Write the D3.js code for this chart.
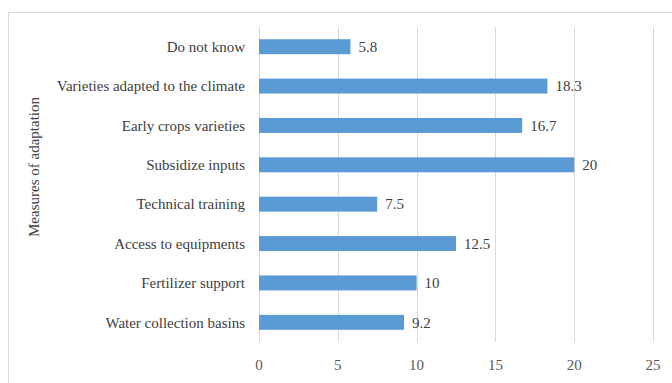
<!DOCTYPE html>
<html><head><meta charset="utf-8">
<script src="https://cdn.jsdelivr.net/npm/d3@7"></script>
<style>body{margin:0;background:#fff}svg{display:block}</style>
</head><body>
<script>
const categories = ["Do not know","Varieties adapted to the climate","Early crops varieties","Subsidize inputs","Technical training","Access to equipments","Fertilizer support","Water collection basins"];
const values = [5.8,18.3,16.7,20,7.5,12.5,10,9.2];
const valueLabels = ["5.8","18.3","16.7","20","7.5","12.5","10","9.2"];
const xTicks = [0,5,10,15,20,25];
const axisTitle = "Measures of adaptation";

const W = 672, H = 383;
const svg = d3.select("body").append("svg").attr("width", W).attr("height", H);
const font = "'Liberation Serif', 'Times New Roman', serif";

svg.append("rect").attr("x", 8.5).attr("y", 12.5).attr("width", W).attr("height", H)
  .attr("fill", "none").attr("stroke", "#d9d9d9");

const x = d3.scaleLinear().domain([0, 25]).range([259, 653]);
const y = d3.scaleBand().domain(categories).range([27, 342]).paddingInner(0.62).paddingOuter(0.31);

svg.append("g").selectAll("line").data(xTicks).join("line")
  .attr("x1", d => Math.round(x(d)) + 0.5).attr("x2", d => Math.round(x(d)) + 0.5)
  .attr("y1", 27).attr("y2", 342).attr("stroke", "#d9d9d9");

svg.append("g").selectAll("rect").data(values).join("rect")
  .attr("x", x(0)).attr("y", (d, i) => y(categories[i]))
  .attr("width", d => x(d) - x(0)).attr("height", y.bandwidth())
  .attr("fill", "#5b9bd5");

svg.append("g").selectAll("text").data(values).join("text")
  .attr("x", d => x(d) + 8).attr("y", (d, i) => y(categories[i]) + y.bandwidth() / 2)
  .attr("dy", "0.35em").attr("font-family", font).attr("font-size", 15).attr("fill", "#404040")
  .text((d, i) => valueLabels[i]);

svg.append("g").selectAll("text").data(categories).join("text")
  .attr("x", 245).attr("y", d => y(d) + y.bandwidth() / 2)
  .attr("dy", "0.35em").attr("text-anchor", "end").attr("font-family", font)
  .attr("font-size", 15).attr("fill", "#404040").text(d => d);

svg.append("g").selectAll("text").data(xTicks).join("text")
  .attr("x", d => x(d)).attr("y", 365).attr("dy", "0.35em").attr("text-anchor", "middle")
  .attr("font-family", font).attr("font-size", 15).attr("fill", "#595959").text(d => d);

svg.append("text").attr("transform", "translate(34,167) rotate(-90)")
  .attr("text-anchor", "middle").attr("dy", "0.35em").attr("font-family", font)
  .attr("font-size", 15).attr("fill", "#404040").text(axisTitle);
</script>
</body></html>
